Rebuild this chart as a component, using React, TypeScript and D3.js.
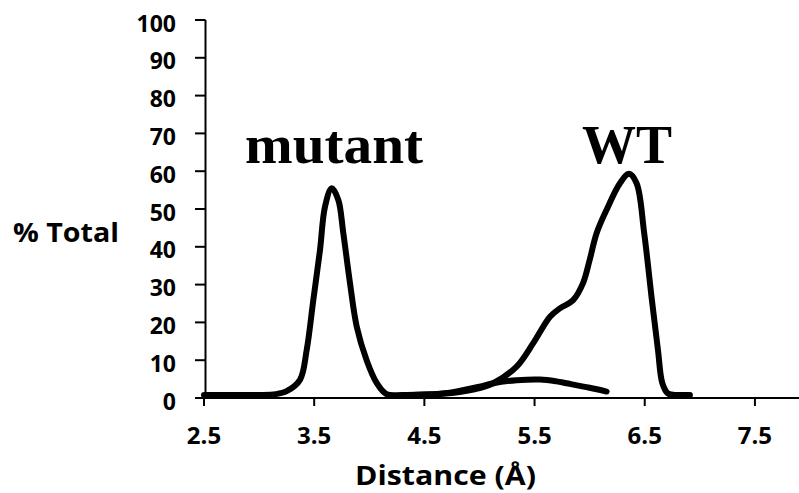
import * as d3 from "d3";

// distance (Å) and % total
const mutantDist = [2.5, 2.8, 3.0, 3.15, 3.25, 3.371, 3.432, 3.492, 3.553, 3.598, 3.659, 3.719, 3.764, 3.825, 3.886, 3.976, 4.067, 4.158, 4.3, 4.5, 4.73, 5.0, 5.125, 5.337, 5.55, 5.7, 5.79, 6.0, 6.154];
const mutantPct = [0.8, 0.8, 0.8, 1.0, 1.8, 4.8, 12.7, 25.9, 39.2, 50.6, 55.5, 52.4, 43.7, 30.4, 18.9, 10, 4, 1.0, 0.8, 0.9, 1.4, 3.0, 3.9, 4.7, 4.9, 4.4, 3.9, 2.7, 1.7];

const wtDist = [4.4, 4.75, 5.0, 5.125, 5.337, 5.488, 5.64, 5.73, 5.85, 5.94, 6.0, 6.063, 6.154, 6.275, 6.357, 6.426, 6.495, 6.565, 6.62, 6.66, 6.71, 6.8, 6.91];
const wtPct = [0.8, 1.3, 2.6, 3.9, 8.3, 14.5, 21.5, 23.7, 25.9, 30.4, 36.5, 43.6, 49.8, 56.8, 59.3, 56.8, 43.6, 25.9, 12.7, 3.9, 1.2, 0.8, 0.8];

const xTicks = [2.5, 3.5, 4.5, 5.5, 6.5, 7.5];
const yTicks = [0, 10, 20, 30, 40, 50, 60, 70, 80, 90, 100];

const width = 799;
const height = 493;
const sans = "'Open Sans', sans-serif";
const serif = "'Liberation Serif', 'Times New Roman', serif";

const xScale = d3.scaleLinear().domain([2.5, 7.9]).range([204, 799]);
const yScale = d3.scaleLinear().domain([0, 100]).range([398, 20]);

const line = d3
  .line<[number, number]>()
  .x((d) => xScale(d[0]))
  .y((d) => yScale(d[1]))
  .curve(d3.curveCatmullRom.alpha(0.5));

const App = () => {
  const mutant = mutantDist.map((d, i) => [d, mutantPct[i]] as [number, number]);
  const wt = wtDist.map((d, i) => [d, wtPct[i]] as [number, number]);
  const x0 = xScale(2.5);

  return (
    <>
      <style>{"body{margin:0}"}</style>
      <svg width={width} height={height} style={{ display: "block", background: "#fff" }}>
        {/* curves */}
        <path d={line(mutant) || ""} fill="none" stroke="#000" strokeWidth={6} strokeLinecap="round" strokeLinejoin="round" />
        <path d={line(wt) || ""} fill="none" stroke="#000" strokeWidth={6} strokeLinecap="round" strokeLinejoin="round" />

        {/* y axis */}
        <line x1={x0 + 1.5} x2={x0 + 1.5} y1={yScale(100)} y2={yScale(0)} stroke="#000" strokeWidth={2} />
        {yTicks.map((t) => (
          <g key={t} transform={`translate(0,${yScale(t)})`}>
            <line x1={195} x2={x0 + 1.5} stroke="#000" strokeWidth={2} />
            <text x={176} y={11.6} textAnchor="end" fontFamily={sans} fontWeight="bold" fontSize={23}>
              {t}
            </text>
          </g>
        ))}

        {/* x axis */}
        <line x1={x0} x2={width} y1={yScale(0)} y2={yScale(0)} stroke="#000" strokeWidth={2} />
        {xTicks.map((t) => (
          <g key={t} transform={`translate(${xScale(t)},0)`}>
            <line y1={yScale(0)} y2={yScale(0) + 8} stroke="#000" strokeWidth={2} />
            <text y={444} textAnchor="middle" fontFamily={sans} fontWeight="bold" fontSize={24}>
              {t.toFixed(1)}
            </text>
          </g>
        ))}

        {/* titles */}
        <text x={13} y={242} fontFamily={sans} fontWeight="bold" fontSize={27} textLength={106} lengthAdjust="spacingAndGlyphs">
          % Total
        </text>
        <text x={355} y={485} fontFamily={sans} fontWeight="bold" fontSize={26} textLength={181} lengthAdjust="spacingAndGlyphs">
          Distance (Å)
        </text>

        {/* series labels */}
        <text x={245} y={163} fontFamily={serif} fontWeight="bold" fontSize={54} textLength={178} lengthAdjust="spacingAndGlyphs">
          mutant
        </text>
        <text x={582} y={163} fontFamily={serif} fontWeight="bold" fontSize={54} textLength={90} lengthAdjust="spacingAndGlyphs">
          WT
        </text>
      </svg>
    </>
  );
};

export default App;
